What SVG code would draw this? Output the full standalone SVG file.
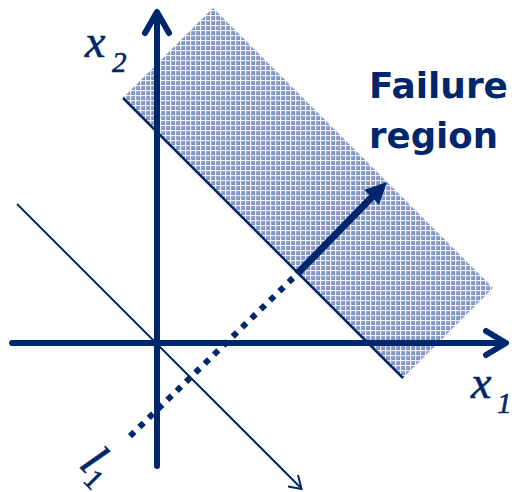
<svg xmlns="http://www.w3.org/2000/svg" width="516" height="492" viewBox="0 0 516 492">
  <defs>
    <pattern id="hatch" width="5" height="5" patternUnits="userSpaceOnUse">
      <rect width="5" height="5" fill="#7a8fc2"/>
      <rect x="0" y="0" width="5" height="1.2" fill="#f2f4fa"/>
      <rect x="0" y="0" width="1.2" height="5" fill="#f2f4fa"/>
      <rect x="2.5" y="2.5" width="1" height="1" fill="#b3c0de"/>
    </pattern>
  </defs>
  <style>
    .ax { stroke: #00266b; stroke-width: 6; fill: none; stroke-linecap: round; stroke-linejoin: round; }
    .thin { stroke: #00266b; stroke-width: 2; fill: none; }
    .math { font-family: "Liberation Serif", serif; font-style: italic; fill: #00266b; stroke: #00266b; stroke-width: 0.6; }
    .lbl { font-family: "DejaVu Sans", "Liberation Sans", sans-serif; font-weight: bold; fill: #00266b; font-size: 36px; }
  </style>

  <g id="failure-region">
    <polygon points="123,98 213,8 493,288 403,378" fill="url(#hatch)"/>
    <line x1="123" y1="98" x2="403" y2="378" stroke="#00266b" stroke-width="2.5"/>
  </g>

  <g id="connectors">
    <!-- x1 axis -->
    <line class="ax" x1="12" y1="343" x2="504" y2="343" stroke-linecap="butt"/>
    <polyline class="ax" points="486,331 506,343 486,355"/>
    <!-- x2 axis -->
    <line class="ax" x1="157" y1="466" x2="157" y2="14" stroke-linecap="butt"/>
    <polyline class="ax" points="145,33 157,12 169,33"/>
    <!-- l1 line -->
    <line class="thin" x1="17" y1="204" x2="301" y2="488"/>
    <polyline class="thin" points="298,475 301.5,489 288,486.5"/>
    <!-- dotted perpendicular -->
    <line x1="293" y1="278" x2="126" y2="440" stroke="#00266b" stroke-width="6" stroke-dasharray="6 7"/>
    <!-- design point arrow -->
    <line x1="297" y1="274" x2="374" y2="195" stroke="#00266b" stroke-width="7"/>
    <polygon points="387,182 379,205 371,196 364,190" fill="#00266b"/>
  </g>

  <g id="label-x2">
    <text class="math" x="85" y="57" font-size="46">x</text>
    <text class="math" x="112" y="72" font-size="29" font-style="normal">2</text>
  </g>
  <g id="label-x1">
    <text class="math" x="471" y="398" font-size="46">x</text>
    <text class="math" x="497" y="413" font-size="29" font-style="normal">1</text>
  </g>
  <g id="label-l1">
    <text class="math" transform="translate(78,466) rotate(45)" font-size="48">l<tspan font-size="29" font-style="normal" dy="8">1</tspan></text>
  </g>
  <g id="label-failure">
    <text class="lbl" x="369" y="98" textLength="139" lengthAdjust="spacingAndGlyphs">Failure</text>
    <text class="lbl" x="369" y="148" textLength="129" lengthAdjust="spacingAndGlyphs">region</text>
  </g>
</svg>
